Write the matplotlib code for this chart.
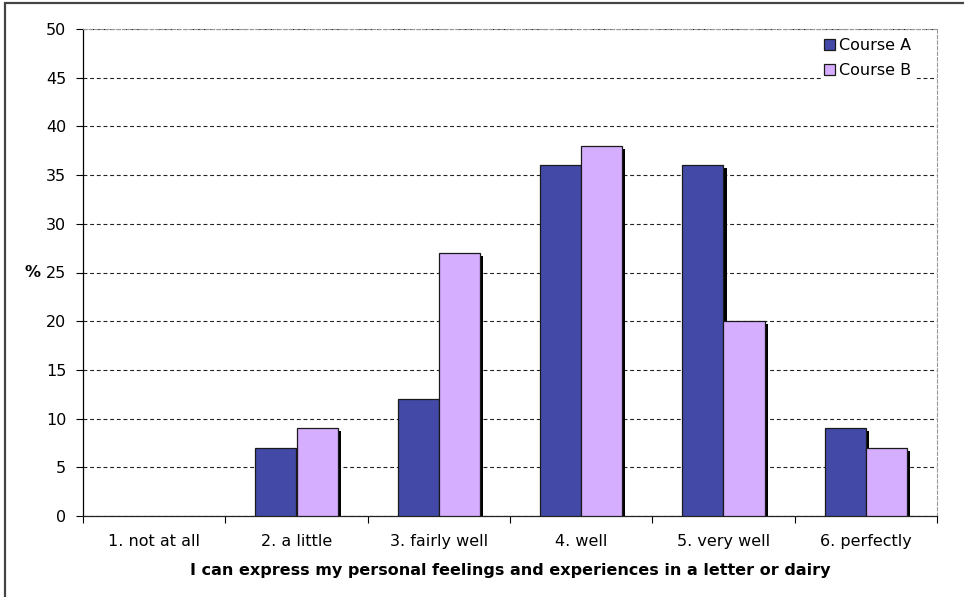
import matplotlib
matplotlib.use("Agg")
import matplotlib.pyplot as plt
from matplotlib.patches import Rectangle, Patch
import numpy as np

categories = ["1. not at all", "2. a little", "3. fairly well", "4. well", "5. very well", "6. perfectly"]
course_a = [0, 7, 12, 36, 36, 9]
course_b = [0, 9, 27, 38, 20, 7]
y_ticks = list(range(0, 51, 5))

color_a = "#4349A7"
color_b = "#D6AEFF"

plt.rcParams["font.family"] = ["DejaVu Sans"]
plt.rcParams["font.size"] = 11.5

fig = plt.figure(figsize=(9.64, 5.97), dpi=100)
ax = fig.add_axes([83 / 964, 81 / 597, 854 / 964, 487 / 597])

x = np.arange(len(categories))
w = 0.29
dx = 3 / 142.3   # shadow offset in category units
dy = 0.3         # shadow top drop in data units

# shadows first
for xs, vals in ((x - w / 2, course_a), (x + w / 2, course_b)):
    for xi, v in zip(xs, vals):
        if v > 0:
            ax.bar(xi + dx, v - dy, width=w, color="black", zorder=2, linewidth=0)

for xs, vals, col in ((x - w / 2, course_a, color_a), (x + w / 2, course_b, color_b)):
    bars = ax.bar(xs, vals, width=w, color=col, edgecolor="#1a1a1a", linewidth=0.9, zorder=3)
    for b, v in zip(bars, vals):
        if v == 0:
            b.set_visible(False)

ax.set_xlim(-0.5, len(categories) - 0.5)
ax.set_ylim(0, 50)
ax.set_yticks(y_ticks)
ax.yaxis.grid(True, color="#222222", linestyle=(0, (3.5, 2.5)), linewidth=0.8)
ax.set_axisbelow(True)

ax.set_xticks(x)
ax.set_xticklabels(categories)
ax.set_xticks(np.arange(len(categories) + 1) - 0.5, minor=True)
ax.tick_params(axis="x", which="major", length=0, pad=13)
ax.tick_params(axis="x", which="minor", length=5, direction="out", width=0.8)
ax.tick_params(axis="y", length=5, width=0.8, pad=7)

for s in ("top", "right"):
    ax.spines[s].set_color("#999999")
    ax.spines[s].set_linestyle((0, (3, 2)))
    ax.spines[s].set_linewidth(0.8)
ax.spines["left"].set_color("black")
ax.spines["left"].set_linewidth(0.9)
ax.spines["bottom"].set_color("#222222")
ax.spines["bottom"].set_linewidth(0.9)

ax.set_xlabel("I can express my personal feelings and experiences in a letter or dairy",
              fontweight="bold", labelpad=10)
ax.set_ylabel("%", fontweight="bold", rotation=0, labelpad=10, va="center")

handles = [Patch(facecolor=color_a, edgecolor="#1a1a1a", linewidth=0.9, label="Course A"),
           Patch(facecolor=color_b, edgecolor="#1a1a1a", linewidth=0.9, label="Course B")]
leg = ax.legend(handles=handles, loc="upper right", bbox_to_anchor=(914 / 964, 1 - 35 / 597),
                bbox_transform=fig.transFigure, frameon=True, fancybox=False,
                handlelength=0.7, handleheight=0.7, handletextpad=0.2,
                labelspacing=0.6, borderpad=0.2, borderaxespad=0)
leg.get_frame().set_edgecolor("none")
leg.get_frame().set_facecolor("white")
leg.get_frame().set_alpha(1)

fig.add_artist(Rectangle((5 / 964, -0.05), 1.1, 1.05 - 3 / 597, transform=fig.transFigure,
                         fill=False, edgecolor="#444444", linewidth=1.6, clip_on=False))

fig.savefig("out.png", dpi=100)
